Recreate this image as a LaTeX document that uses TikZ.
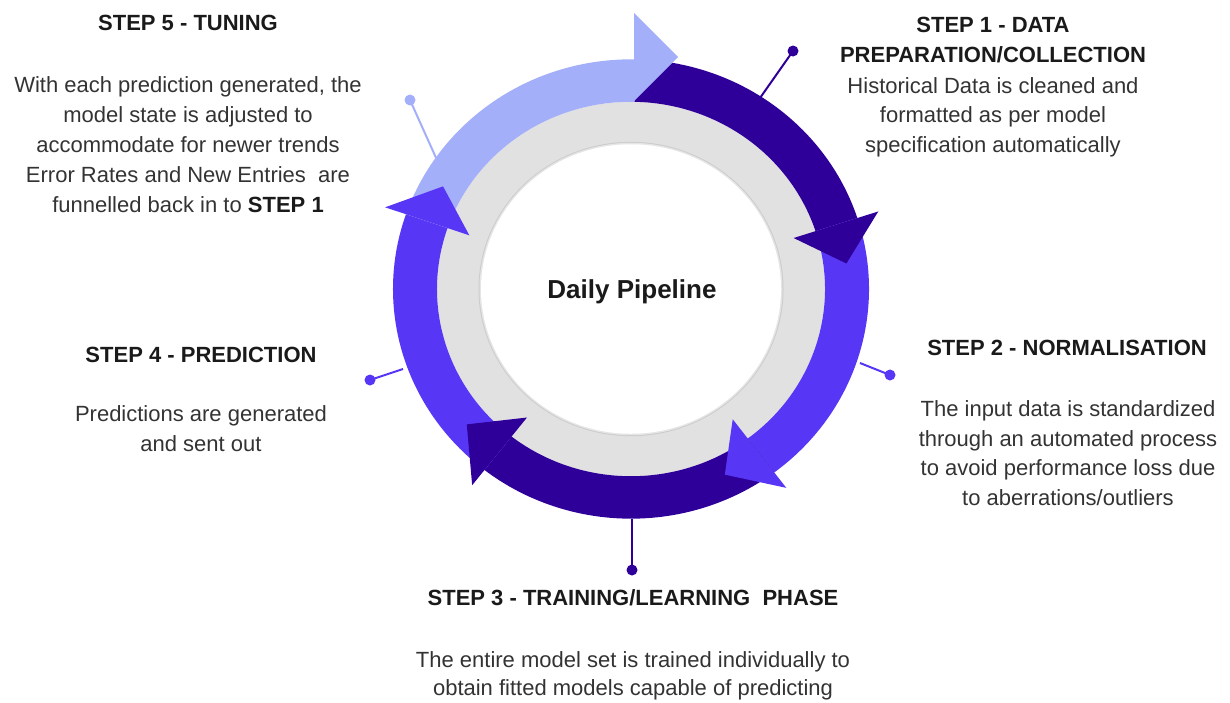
\documentclass[tikz,border=0pt]{standalone}
\usepackage{fontspec}
\setmainfont{Liberation Sans}
\definecolor{cdark}{HTML}{2F0099}
\definecolor{cmed}{HTML}{5836F5}
\definecolor{clight}{HTML}{A4AFFA}
\definecolor{cgray}{HTML}{E1E1E1}
\definecolor{ctitle}{HTML}{1A1A1A}
\definecolor{cbody}{HTML}{333333}
\tikzset{
  titletext/.style={font=\bfseries\fontsize{22}{29.5}\selectfont, text=ctitle, align=center, anchor=base, inner sep=0pt},
  bodytext/.style={font=\fontsize{22}{29.5}\selectfont, text=cbody, align=center, anchor=base, inner sep=0pt},
  pinline/.style={line width=2pt},
  pindot/.style={circle, inner sep=0pt, minimum size=11pt},
}
\begin{document}
\begin{tikzpicture}[x=1pt,y=-1pt]
\useasboundingbox (0,0) rectangle (1230,702);
\begin{scope}[shift={(631,289)}, yscale=-0.965]
  \fill[cgray] (0,0) circle[radius=194];
  \fill[black!20] (0,0) circle[radius=152.5];
  \fill[black!10] (0,0) circle[radius=151.5];
  \fill[white] (0,0) circle[radius=150];
  % bands
  \fill[cdark] (89:194) arc[start angle=89,end angle=18,radius=194] -- (18:238) arc[start angle=18,end angle=89,radius=238] -- cycle;
  \fill[cmed] (18:194) arc[start angle=18,end angle=-53,radius=194] -- (-53:238) arc[start angle=-53,end angle=18,radius=238] -- cycle;
  \fill[cdark] (-53:194) arc[start angle=-53,end angle=-128,radius=194] -- (-128:238) arc[start angle=-128,end angle=-53,radius=238] -- cycle;
  \fill[cmed] (232:194) arc[start angle=232,end angle=161,radius=194] -- (161:238) arc[start angle=161,end angle=232,radius=238] -- cycle;
  \fill[clight] (161:194) arc[start angle=161,end angle=89,radius=194] -- (89:238) arc[start angle=89,end angle=161,radius=238] -- cycle;
  % heads
  \fill[cdark] (18:171) -- (7:217) -- (18:260) -- cycle;
  \fill[cmed] (-53:169) -- (-64:214) -- (-53:258) -- cycle;
  \fill[cdark] (-128:169) -- (-139.5:216) -- (-128:258) -- cycle;
  \fill[cmed] (161:171) -- (150.5:216) -- (161:260) -- cycle;
\end{scope}
\fill[clight] (634,13) -- (678,57) -- (634,101) -- cycle;

% pins
\coordinate (r1) at (760,98);
\coordinate (r2) at (860,363);
\coordinate (r3) at (632,519);
\coordinate (r4) at (403,369);
\coordinate (r5) at (437,160);
\node[pindot, fill=cdark] (d1) at (793,51) {};
\node[pindot, fill=cmed] (d2) at (890,375) {};
\node[pindot, fill=cdark] (d3) at (632,570) {};
\node[pindot, fill=cmed] (d4) at (370,380) {};
\node[pindot, fill=clight] (d5) at (410,100) {};
\draw[pinline, cdark] (r1) -- (d1.center);
\draw[pinline, cmed] (r2) -- (d2.center);
\draw[pinline, cdark] (r3) -- (d3.center);
\draw[pinline, cmed] (r4) -- (d4.center);
\draw[pinline, clight] (r5) -- (d5.center);

% center label
\node[font=\bfseries\fontsize{26}{30}\selectfont, text=ctitle, anchor=base, inner sep=0pt] (ctr) at (632,298) {Daily Pipeline};

% texts (base anchor = baseline of the last line)
\node[titletext] (t5) at (188,30) {STEP 5 - TUNING};
\node[bodytext, font=\fontsize{22}{30}\selectfont] (b5) at (188,212) {With each prediction generated, the\\model state is adjusted to\\accommodate for newer trends\\Error Rates and New Entries\ \ are\\funnelled back in to \textbf{\color{ctitle}STEP 1}};
\node[titletext] (t1) at (993,62) {STEP 1 - DATA\\PREPARATION/COLLECTION};
\node[bodytext] (b1) at (993,152) {Historical Data is cleaned and\\formatted as per model\\specification automatically};
\node[titletext] (t2) at (1067,355) {STEP 2 - NORMALISATION};
\node[bodytext] (b2) at (1068,505) {The input data is standardized\\through an automated process\\to avoid performance loss due\\to aberrations/outliers};
\node[titletext] (t3) at (633,605) {STEP 3 - TRAINING/LEARNING\ \ PHASE};
\node[bodytext, font=\fontsize{22}{28}\selectfont] (b3) at (633,695) {The entire model set is trained individually to\\obtain fitted models capable of predicting};
\node[titletext] (t4) at (201,362) {STEP 4 - PREDICTION};
\node[bodytext] (b4) at (201,451) {Predictions are generated\\and sent out};
\end{tikzpicture}
\end{document}
